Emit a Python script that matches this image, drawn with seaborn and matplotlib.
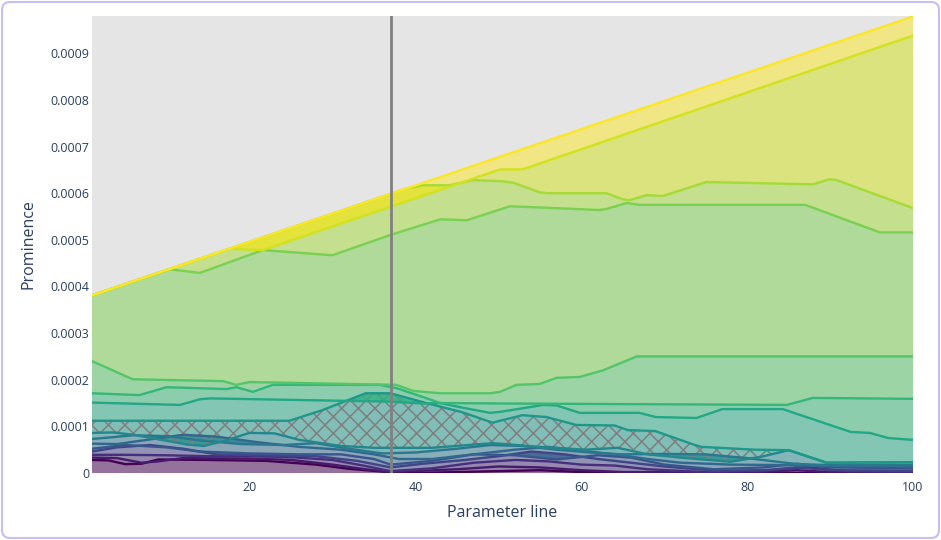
import numpy as np
import pandas as pd
import matplotlib
matplotlib.use('Agg')
import matplotlib.pyplot as plt
import seaborn as sns
from matplotlib.patches import FancyBboxPatch
from matplotlib.transforms import IdentityTransform

# prominence values are written in units of 1e-4
UNIT = 1e-4

line_x = [
    [1, 3, 5, 7, 9, 15, 22, 28, 32, 36, 40, 50, 55, 60, 70, 100],
    [1, 4, 7, 9, 12, 20, 25, 30, 34, 37, 45, 50, 55, 60, 65, 80, 86, 90, 100],
    [1, 5, 10, 15, 20, 25, 30, 34, 37, 42, 47, 52, 56, 60, 64, 68, 75, 83, 87, 92, 100],
    [1, 4, 8, 12, 16, 22, 28, 33, 37, 41, 46, 50, 54, 58, 62, 66, 70, 76, 82, 86, 90, 100],
    [1, 5, 10, 14, 20, 26, 31, 35, 37, 42, 47, 52, 57, 62, 66, 70, 76, 82, 86, 90, 100],
    [1, 4, 8, 12, 16, 21, 26, 31, 35, 38, 42, 47, 52, 56, 60, 64, 68, 72, 78, 84, 90, 100],
    [1, 3, 6, 10, 14, 19, 24, 28, 32, 36, 40, 45, 49, 53, 57, 61, 65, 70, 75, 80, 86, 90, 100],
    [1, 3.5, 6, 12.5, 14.5, 17, 20, 23, 26, 31, 35, 42, 49.3, 55, 60.4, 64.4, 68, 72, 78, 82, 85, 89.6, 100],
    [1, 24.8, 28.8, 34, 37, 40.9, 45.7, 49.3, 52.9, 55.8, 59.4, 64, 65.6, 68.9, 73.7, 74.5, 80.9, 85, 89.6, 100],
    [1, 11.6, 14, 15.2, 36.9, 40.9, 43, 45.7, 49, 50.2, 55.4, 57, 59.8, 67, 69, 73.9, 77, 84.3, 92.5, 94.8, 97, 100],
    [1, 6.7, 10, 17.2, 18.4, 20.4, 22.8, 35.7, 37.7, 40.9, 43, 51.4, 84.8, 87.9, 100],
    [1, 5.9, 16.8, 18.4, 20, 37.7, 39.7, 43, 49, 50.2, 52.2, 55, 57, 59.8, 62.6, 66.7, 100],
    [1, 10.35, 14, 21.6, 30, 36.9, 43, 46.2, 51.4, 62.2, 63, 65.5, 67, 87, 96, 100],
    [1, 38.9, 40.9, 44.1, 46.9, 50.2, 51.7, 55, 56, 63, 65, 65.8, 67.9, 69.8, 75.1, 87.9, 90, 90.8, 100],
    [1, 17.6, 21.6, 50.2, 52.9, 100],
    [1, 100],
]

line_y = [
    [0.28, 0.27, 0.19, 0.20, 0.29, 0.28, 0.26, 0.18, 0.09, 0.03, 0.0, 0.04, 0.06, 0.02, 0.0, 0.0],
    [0.33, 0.32, 0.22, 0.25, 0.32, 0.31, 0.28, 0.18, 0.08, 0.02, 0.08, 0.14, 0.12, 0.06, 0.02, 0.01, 0.06, 0.02, 0.01],
    [0.39, 0.39, 0.38, 0.36, 0.36, 0.34, 0.28, 0.15, 0.04, 0.10, 0.22, 0.28, 0.25, 0.18, 0.16, 0.08, 0.02, 0.06, 0.13, 0.04, 0.02],
    [0.46, 0.55, 0.60, 0.52, 0.40, 0.38, 0.36, 0.26, 0.12, 0.20, 0.28, 0.36, 0.46, 0.40, 0.30, 0.22, 0.14, 0.05, 0.06, 0.12, 0.06, 0.05],
    [0.52, 0.60, 0.55, 0.46, 0.42, 0.40, 0.40, 0.30, 0.18, 0.26, 0.40, 0.38, 0.29, 0.38, 0.33, 0.18, 0.08, 0.12, 0.20, 0.12, 0.10],
    [0.63, 0.62, 0.72, 0.82, 0.78, 0.66, 0.56, 0.50, 0.40, 0.30, 0.30, 0.40, 0.50, 0.56, 0.48, 0.40, 0.30, 0.22, 0.18, 0.17, 0.15, 0.14],
    [0.73, 0.76, 0.81, 0.79, 0.70, 0.62, 0.60, 0.64, 0.52, 0.42, 0.44, 0.52, 0.60, 0.58, 0.50, 0.44, 0.40, 0.41, 0.40, 0.32, 0.19, 0.17, 0.17],
    [0.86, 0.87, 0.82, 0.61, 0.58, 0.69, 0.86, 0.85, 0.71, 0.58, 0.54, 0.54, 0.64, 0.56, 0.50, 0.54, 0.40, 0.33, 0.24, 0.36, 0.49, 0.22, 0.23],
    [1.12, 1.12, 1.35, 1.71, 1.71, 1.52, 1.30, 1.08, 1.24, 1.20, 1.03, 1.02, 0.92, 0.90, 0.60, 0.56, 0.50, 0.49, 0.22, 0.23],
    [1.51, 1.46, 1.58, 1.60, 1.53, 1.49, 1.50, 1.40, 1.29, 1.31, 1.46, 1.45, 1.29, 1.29, 1.20, 1.18, 1.37, 1.37, 0.88, 0.86, 0.75, 0.71],
    [1.71, 1.67, 1.84, 1.80, 1.84, 1.74, 1.89, 1.89, 1.82, 1.63, 1.50, 1.49, 1.46, 1.61, 1.59],
    [2.40, 2.01, 1.97, 1.89, 1.95, 1.89, 1.76, 1.71, 1.71, 1.74, 1.89, 1.91, 2.04, 2.06, 2.20, 2.50, 2.50],
    [3.81, 4.37, 4.29, 4.78, 4.67, 5.10, 5.44, 5.42, 5.72, 5.64, 5.66, 5.79, 5.75, 5.75, 5.16, 5.16],
    [3.81, 6.10, 6.17, 6.17, 6.28, 6.26, 6.23, 6.02, 6.00, 6.00, 5.87, 5.85, 5.96, 5.94, 6.24, 6.19, 6.30, 6.28, 5.68],
    [3.81, 4.81, 4.78, 6.51, 6.51, 9.38],
    [3.81, 9.79],
]

hatched_line = 8
marker_x = 37
x_ticks = [20, 40, 60, 80, 100]
y_ticks = [0, 1, 2, 3, 4, 5, 6, 7, 8, 9]
y_tick_labels = ['0', '0.0001', '0.0002', '0.0003', '0.0004',
                 '0.0005', '0.0006', '0.0007', '0.0008', '0.0009']

names = [f'line {i}' for i in range(len(line_x))]
colors = plt.cm.viridis(np.linspace(0, 1, len(names)))

df = pd.concat([
    pd.DataFrame({'param': xs, 'prominence': np.array(ys) * UNIT, 'line': name})
    for xs, ys, name in zip(line_x, line_y, names)
], ignore_index=True)

sns.set_style('dark', {'axes.facecolor': '#e5e5e5'})
plt.rcParams['font.family'] = ['Open Sans', 'DejaVu Sans']
plt.rcParams['hatch.color'] = '#7f7f7f'
plt.rcParams['hatch.linewidth'] = 1.1

fig = plt.figure(figsize=(9.41, 5.40), dpi=100)
ax = fig.add_axes([92 / 941, 1 - 473 / 540, 821 / 941, 457 / 540])

# each band fills from its line down to the previous one
for k, name in enumerate(names):
    xs = np.array(line_x[k], dtype=float)
    ys = np.array(line_y[k]) * UNIT
    if k == 0:
        px = np.concatenate([xs, xs[::-1]])
        py = np.concatenate([ys, np.zeros_like(ys)])
    else:
        xp = np.array(line_x[k - 1], dtype=float)
        yp = np.array(line_y[k - 1]) * UNIT
        px = np.concatenate([xs, xp[::-1]])
        py = np.concatenate([ys, yp[::-1]])
    fc = (*colors[k][:3], 0.5)
    if k == hatched_line:
        ax.fill(px, py, facecolor=fc, edgecolor='#7f7f7f', lw=0, hatch='xx')
    else:
        ax.fill(px, py, facecolor=fc, lw=0)

palette = {name: colors[k] for k, name in enumerate(names)}
sns.lineplot(data=df, x='param', y='prominence', hue='line', hue_order=names,
             palette=palette, estimator=None, sort=False, legend=False,
             lw=1.7, ax=ax)

ax.axvline(marker_x, color='#808080', lw=2)

ax.set_xlim(1, 100)
ax.set_ylim(0, 9.8 * UNIT)
ax.set_xticks(x_ticks)
ax.set_xticklabels([str(t) for t in x_ticks])
ax.set_yticks(np.array(y_ticks) * UNIT)
ax.set_yticklabels(y_tick_labels)
ax.tick_params(length=0, labelsize=9, labelcolor='#2a3f5f')
ax.tick_params(axis='x', pad=6)
ax.tick_params(axis='y', pad=2)
for s in ax.spines.values():
    s.set_visible(False)
ax.grid(False)

ax.set_xlabel('Parameter line', fontsize=11.5, color='#2a3f5f')
ax.set_ylabel('Prominence', fontsize=11.5, color='#2a3f5f')
ax.xaxis.set_label_coords(0.5, -(513 - 473) / 457)
ax.xaxis.label.set_va('center')
ax.yaxis.set_label_coords((28 - 92) / 821, 0.5)
ax.yaxis.label.set_va('center')

fig.add_artist(FancyBboxPatch((2, 2), 937, 536, boxstyle='round,pad=0,rounding_size=8',
                              transform=IdentityTransform(), fill=False,
                              ec='#c6bff2', lw=1.5))

fig.savefig('out.png', dpi=100)
